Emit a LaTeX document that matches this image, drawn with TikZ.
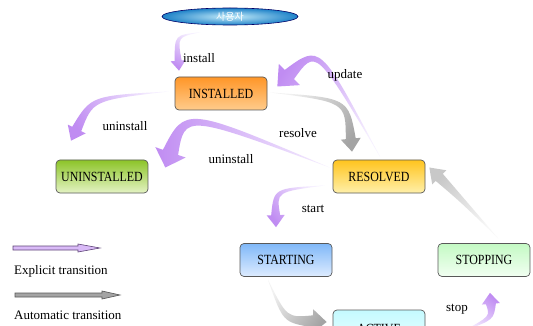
\documentclass[tikz,border=0pt]{standalone}
\usepackage{fontspec}
\setmainfont{Liberation Serif}
\newfontfamily\nodefont[FakeStretch=0.85]{Liberation Serif}
\newfontfamily\krfont{Noto Sans CJK KR}
\usetikzlibrary{calc,shapes.geometric}

\definecolor{purHead}{HTML}{C08CF2}
\definecolor{purTail}{HTML}{F6F0FF}
\definecolor{grHead}{HTML}{A4A4A4}
\definecolor{grTail}{HTML}{F2F2F2}
\definecolor{lgHead}{HTML}{C8C8C8}
\definecolor{lgTail}{HTML}{F8F8F8}

\tikzset{
  state/.style={draw=black!65, line width=0.7pt, rounded corners=4pt,
    minimum width=92pt, minimum height=33pt, inner sep=0pt,
    font=\nodefont\fontsize{14}{15}\selectfont},
  lab/.style={font=\fontsize{13}{14}\selectfont, inner sep=0pt},
}

% tapered curved arrow: #1 head colour, #2 tail colour, #3 tail, #4 control, #5 tip,
% #6 half body width, #7 half head width, #8 head length
\newcommand\fatarrow[8]{%
  \coordinate (fa-A) at (#3);
  \coordinate (fa-C) at (#4);
  \coordinate (fa-B) at (#5);
  \coordinate (fa-H) at ($(fa-B)!#8pt!(fa-C)$);
  \coordinate (fa-Hl) at ($(fa-H)!#6pt!-90:(fa-C)$);
  \coordinate (fa-Hr) at ($(fa-H)!#6pt!90:(fa-C)$);
  \coordinate (fa-HL) at ($(fa-H)!#7pt!-90:(fa-C)$);
  \coordinate (fa-HR) at ($(fa-H)!#7pt!90:(fa-C)$);
  \coordinate (fa-N) at ($(fa-A)!0.5*#6pt!90:(fa-H)$);
  \coordinate (fa-Cl) at ($(fa-C)+(fa-N)-(fa-A)$);
  \coordinate (fa-Cr) at ($(fa-C)-(fa-N)+(fa-A)$);
  \pgfmathanglebetweenpoints{\pgfpointanchor{fa-A}{center}}{\pgfpointanchor{fa-B}{center}}%
  \pgfmathsetmacro\faang{\pgfmathresult-90}%
  \shade[top color=#1, bottom color=#2, shading angle=\faang]
    (fa-A) .. controls (fa-Cl) .. (fa-Hl) -- (fa-HL) -- (fa-B) -- (fa-HR)
    -- (fa-Hr) .. controls (fa-Cr) .. (fa-A) -- cycle;
}

% legend arrow: #1 start, #2 end, #3 fill, #4 draw, #5 head length
\newcommand\legarrow[5]{%
  \draw[fill=#3, draw=#4, line width=0.6pt]
    ($(#1)+(0,-2)$) -- ($(#2)+(-#5,-2)$) -- ($(#2)+(-#5,-4)$) -- (#2)
    -- ($(#2)+(-#5,4)$) -- ($(#2)+(-#5,2)$) -- ($(#1)+(0,2)$) -- cycle;
}

\begin{document}
\begin{tikzpicture}[x=1pt,y=-1pt]
\useasboundingbox (0,0) rectangle (533,326);
\fill[white] (0,0) rectangle (533,326);
\clip (0,0) rectangle (533,326);

% nodes
\node[ellipse, draw=black!60!blue, line width=0.6pt, inner sep=0pt,
  minimum width=136pt, minimum height=17pt,
  inner color={rgb,255:red,196;green,236;blue,250}, outer color={rgb,255:red,30;green,130;blue,200}]
  (user) at (230,16.5) {\krfont\fontsize{10}{10}\selectfont\color{white}사용자};

\node[state, top color={rgb,255:red,255;green,150;blue,40}, bottom color={rgb,255:red,255;green,204;blue,140}]
  (inst) at (221,93.5) {INSTALLED};
\node[state, top color={rgb,255:red,140;green,196;blue,40}, bottom color={rgb,255:red,228;green,243;blue,196}]
  (uninst) at (102,176.5) {UNINSTALLED};
\node[state, top color={rgb,255:red,255;green,196;blue,30}, bottom color={rgb,255:red,255;green,240;blue,170}]
  (res) at (379,176.5) {RESOLVED};
\node[state, top color={rgb,255:red,128;green,184;blue,248}, bottom color={rgb,255:red,222;green,236;blue,255}]
  (starting) at (286,260) {STARTING};
\node[state, top color={rgb,255:red,196;green,250;blue,196}, bottom color={rgb,255:red,242;green,255;blue,242}]
  (stopping) at (484,260) {STOPPING};
\node[state, minimum height=38pt, top color={rgb,255:red,196;green,250;blue,255}, bottom color={rgb,255:red,240;green,255;blue,255}]
  (active) at (379,329) {ACTIVE};

% transitions
\fatarrow{purHead}{purTail}{$(user.south)+(-30,7)$}{176,36}{$(inst.north)+(-42,-6)$}{3.5}{7.5}{10}
\fatarrow{purHead}{purTail}{$(res.north)+(1,-3)$}{318,46}{$(inst.east)+(10,-7)$}{6.5}{15}{17}
\fatarrow{grHead}{grTail}{$(inst.east)+(3,-1)$}{347,100}{$(res.north)+(-27,-8)$}{5}{10}{13}
\fatarrow{purHead}{purTail}{$(inst.west)+(-6,-2)$}{92,98}{$(uninst.north)+(-31,-19)$}{5}{10}{13}
\fatarrow{purHead}{purTail}{$(res.west)+(-3,-9)$}{185,110}{$(uninst.east)+(17,-9)$}{8}{16}{16}
\fatarrow{purHead}{purTail}{$(res.west)+(-8,9)$}{275,190}{$(starting.north)+(-10,-16)$}{4.5}{9}{12}
\fatarrow{grHead}{grTail}{$(starting.south)+(-18,3)$}{285,320}{$(active.west)+(-6,-7)$}{6}{12}{14}
\fatarrow{purHead}{purTail}{$(active.east)+(38,2)$}{492,318}{$(stopping.south)+(6,16)$}{5}{9}{11}
\fatarrow{lgHead}{lgTail}{$(stopping.north)+(14,-5)$}{462,200}{$(res.east)+(4,-9)$}{5}{10}{14}

% labels
\node[lab] (linstall) at (199,58) {install};
\node[lab] (lupdate) at (345,75) {update};
\node[lab] (lresolve) at (298,133) {resolve};
\node[lab] (lunin1) at (125,126) {uninstall};
\node[lab] (lunin2) at (231,159) {uninstall};
\node[lab] (lstart) at (313,209) {start};
\node[lab] (lstop) at (457,309) {stop};

% legend
\coordinate (le1a) at (13,248);
\coordinate (le1b) at (100,248);
\coordinate (le2a) at (15,295);
\coordinate (le2b) at (120,295);
\legarrow{le1a}{le1b}{purHead!60!white}{purHead!50!black}{22}
\legarrow{le2a}{le2b}{grHead}{black!65}{18}
\node[lab, anchor=west] (lexp) at (14,271) {Explicit transition};
\node[lab, anchor=west] (laut) at (14,315) {Automatic transition};
\end{tikzpicture}
\end{document}
